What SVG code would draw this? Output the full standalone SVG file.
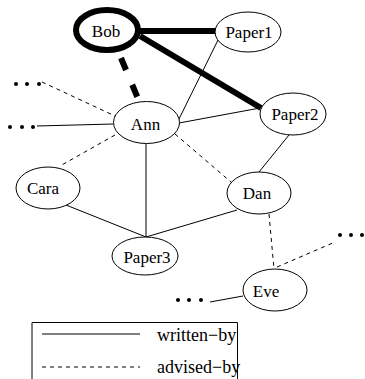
<svg xmlns="http://www.w3.org/2000/svg" width="365" height="379" viewBox="0 0 365 379">
<style>
.n{fill:#fff;stroke:#000;stroke-width:1}
.t{font-family:"Liberation Serif","Times New Roman",serif;font-size:17px;fill:#000;text-anchor:middle}
.lt{font-family:"Liberation Serif","Times New Roman",serif;font-size:18px;fill:#000}
.s{stroke:#000;stroke-width:1;fill:none}
.d{stroke:#000;stroke-width:1;fill:none;stroke-dasharray:4 4}
.dot{fill:#000}
</style>
<rect width="365" height="379" fill="#fff"/>
<g id="connectors">
<line class="s" x1="140" y1="31" x2="216" y2="31" style="stroke-width:6"/>
<line class="s" x1="140" y1="36" x2="261" y2="108" style="stroke-width:6"/>
<line class="s" x1="121" y1="58" x2="139" y2="101" style="stroke-width:6;stroke-dasharray:13 16"/>
<line class="s" x1="178" y1="121" x2="219" y2="38"/>
<line class="s" x1="179" y1="123" x2="260" y2="108"/>
<line class="s" x1="37" y1="126" x2="113" y2="124"/>
<line class="d" x1="42" y1="82" x2="115" y2="116"/>
<line class="d" x1="115" y1="135" x2="60" y2="166"/>
<line class="d" x1="175" y1="134" x2="231" y2="182"/>
<line class="s" x1="146" y1="144" x2="146" y2="237"/>
<line class="s" x1="66" y1="205" x2="146" y2="237"/>
<line class="s" x1="237" y1="210" x2="146" y2="237"/>
<line class="s" x1="289" y1="135" x2="259" y2="172"/>
<line class="d" x1="269" y1="214" x2="274" y2="269"/>
<line class="d" x1="277" y1="267" x2="335" y2="242"/>
<line class="s" x1="210" y1="302" x2="243" y2="296"/>
</g>
<g id="dots">
<circle class="dot" cx="16" cy="84" r="2"/><circle class="dot" cx="27" cy="84" r="2"/><circle class="dot" cx="39" cy="84" r="2"/>
<circle class="dot" cx="10" cy="127" r="2"/><circle class="dot" cx="22" cy="127" r="2"/><circle class="dot" cx="33" cy="127" r="2"/>
<circle class="dot" cx="340" cy="235" r="2"/><circle class="dot" cx="351" cy="235" r="2"/><circle class="dot" cx="362" cy="235" r="2"/>
<circle class="dot" cx="178" cy="300" r="2"/><circle class="dot" cx="189" cy="300" r="2"/><circle class="dot" cx="201" cy="300" r="2"/>
</g>
<g id="Bob"><ellipse class="n" cx="107" cy="30" rx="31" ry="20" style="stroke-width:6"/><text class="t" x="106" y="37">Bob</text></g>
<g id="Paper1"><ellipse class="n" cx="248" cy="32" rx="33" ry="20"/><text class="t" x="249" y="38">Paper1</text></g>
<g id="Ann"><ellipse class="n" cx="146.5" cy="122.5" rx="33" ry="21"/><text class="t" x="145.5" y="130">Ann</text></g>
<g id="Paper2"><ellipse class="n" cx="293" cy="114" rx="33" ry="21"/><text class="t" x="295" y="120">Paper2</text></g>
<g id="Cara"><ellipse class="n" cx="48" cy="188" rx="32" ry="21"/><text class="t" x="43" y="194">Cara</text></g>
<g id="Dan"><ellipse class="n" cx="259" cy="193" rx="32" ry="21"/><text class="t" x="257" y="199">Dan</text></g>
<g id="Paper3"><ellipse class="n" cx="145" cy="256" rx="33" ry="19"/><text class="t" x="147" y="263">Paper3</text></g>
<g id="Eve"><ellipse class="n" cx="275" cy="290" rx="32" ry="21"/><text class="t" x="266" y="297">Eve</text></g>
<g id="legend">
<path class="s" d="M32,379 V322.5 H237.5 V379"/>
<line class="s" x1="42" y1="334" x2="140" y2="334"/>
<line class="d" x1="42" y1="367" x2="140" y2="367"/>
<text class="lt" x="157" y="341">written−by</text>
<text class="lt" x="157" y="373">advised−by</text>
</g>
</svg>
